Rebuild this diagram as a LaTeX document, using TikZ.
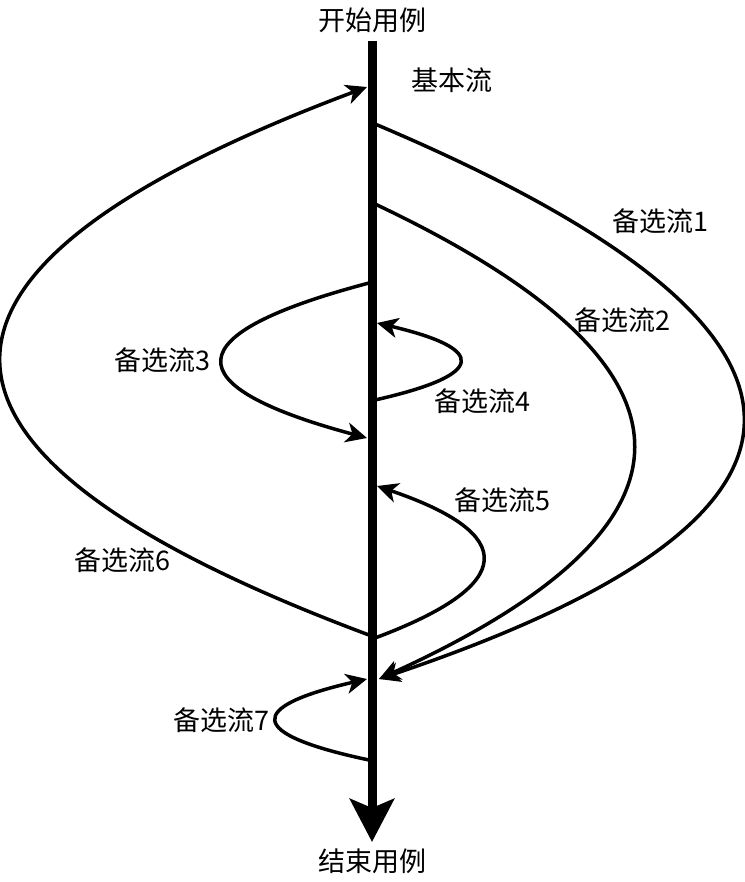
\documentclass[tikz,border=0pt]{standalone}
\usepackage{fontspec}
\setmainfont{Noto Sans CJK SC}
\usetikzlibrary{arrows.meta,calc}
\definecolor{tinta}{HTML}{000000}
\tikzset{
  every node/.style = {font=\fontsize{27}{31}\selectfont, text=tinta, inner sep=0pt},
  eje/.style        = {-{Stealth[length=43pt,width=44pt,inset=9pt]}, draw=tinta,
                       line width=9pt},
  flujo/.style      = {-{Stealth[length=21pt,width=20pt,inset=6pt]}, draw=tinta,
                       line width=3.5pt},
  rotulo/.style     = {anchor=center},
}
\begin{document}
\begin{tikzpicture}[x=1pt,y=-1pt]
\useasboundingbox (0,0) rectangle (744,882);

% =============================================================================
% Eje del flujo basico
% =============================================================================
\node[rotulo] (inicio) at (372,20) {开始用例};
\node[rotulo] (fin)    at (372,861) {结束用例};
\node[rotulo] (basico) at (452,80) {基本流};

\coordinate (arriba) at (372,41);
\coordinate (abajo)  at (372,842);
\draw[eje] (arriba) -- (abajo);

% =============================================================================
% Flujos alternativos: salida (s), punto de control (c), regreso (e)
% =============================================================================
\coordinate (s1) at (375,124);  \coordinate (c1) at (1108,434); \coordinate (e1) at (379,679);
\coordinate (s2) at (375,204);  \coordinate (c2) at (889,447);  \coordinate (e2) at (379,679);
\coordinate (s3) at (369,283);  \coordinate (c3) at (77,360);   \coordinate (e3) at (367,438);
\coordinate (s4) at (375,400);  \coordinate (c4) at (543,362);  \coordinate (e4) at (377,323);
\coordinate (s5) at (375,638);  \coordinate (c5) at (589,558);  \coordinate (e5) at (377,486);
\coordinate (s6) at (369,635);  \coordinate (c6) at (-365,361); \coordinate (e6) at (367,87);
\coordinate (s7) at (369,760);  \coordinate (c7) at (185,721);  \coordinate (e7) at (367,679);

\foreach \i in {1,...,7}
  \draw[flujo] (s\i) .. controls ($(s\i)!0.667!(c\i)$) and ($(e\i)!0.667!(c\i)$) .. (e\i);

\node[rotulo] (alt1) at (660,221) {备选流1};
\node[rotulo] (alt2) at (622,320) {备选流2};
\node[rotulo] (alt3) at (162,360) {备选流3};
\node[rotulo] (alt4) at (482,401) {备选流4};
\node[rotulo] (alt5) at (502,500) {备选流5};
\node[rotulo] (alt6) at (122,560) {备选流6};
\node[rotulo] (alt7) at (221,720) {备选流7};

\end{tikzpicture}
\end{document}
